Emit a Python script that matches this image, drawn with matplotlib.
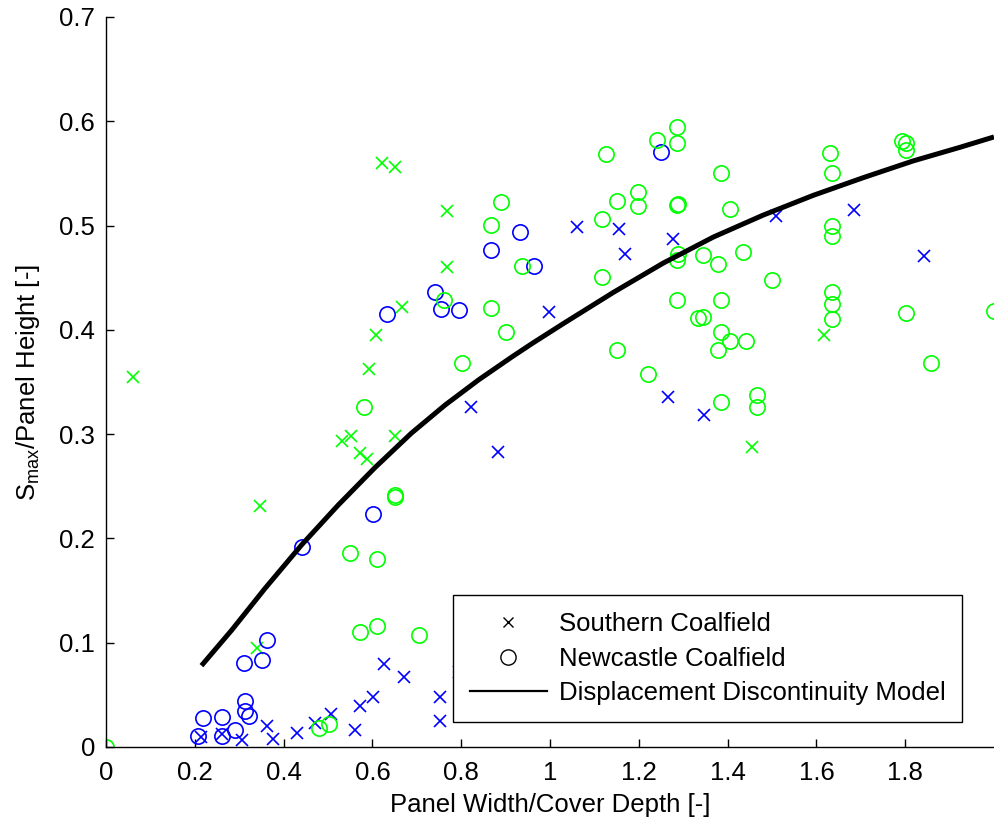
import numpy as np
import matplotlib
matplotlib.use("Agg")
import matplotlib.pyplot as plt
from matplotlib.lines import Line2D

plt.rcParams['font.family'] = ['Liberation Sans', 'DejaVu Sans']

# Southern Coalfield (x markers)
south_blue_x = [0.215, 0.261, 0.306, 0.362, 0.377, 0.430, 0.471, 0.507, 0.561, 0.572,
                0.602, 0.625, 0.671, 0.752, 0.752, 0.794, 0.823, 0.884, 0.998, 1.060,
                1.156, 1.168, 1.276, 1.265, 1.347, 1.508, 1.685, 1.842]
south_blue_y = [0.010, 0.012, 0.007, 0.020, 0.008, 0.013, 0.023, 0.032, 0.016, 0.039,
                0.048, 0.080, 0.067, 0.048, 0.025, 0.072, 0.326, 0.283, 0.417, 0.499,
                0.497, 0.473, 0.487, 0.336, 0.318, 0.509, 0.515, 0.471]

south_green_x = [0.060, 0.339, 0.347, 0.531, 0.552, 0.571, 0.587, 0.593, 0.609, 0.621,
                 0.651, 0.651, 0.666, 0.769, 0.769, 1.454, 1.616]
south_green_y = [0.355, 0.095, 0.231, 0.293, 0.298, 0.282, 0.276, 0.362, 0.395, 0.560,
                 0.556, 0.298, 0.422, 0.460, 0.514, 0.288, 0.395]

# Newcastle Coalfield (circles)
newc_blue_x = [0.208, 0.219, 0.261, 0.261, 0.291, 0.311, 0.312, 0.312, 0.322, 0.352,
               0.362, 0.442, 0.602, 0.633, 0.740, 0.754, 0.796, 0.867, 0.932, 0.965,
               1.251]
newc_blue_y = [0.011, 0.028, 0.011, 0.029, 0.016, 0.081, 0.044, 0.035, 0.030, 0.083,
               0.103, 0.192, 0.223, 0.415, 0.436, 0.420, 0.419, 0.477, 0.494, 0.461,
               0.571]

newc_green_x = [0.000, 0.480, 0.503, 0.550, 0.573, 0.581, 0.610, 0.610, 0.650, 0.652,
                0.705, 0.762, 0.802, 0.867, 0.867, 0.890, 0.902, 0.938, 1.118, 1.118,
                1.126, 1.152, 1.152, 1.199, 1.199, 1.220, 1.241, 1.287, 1.287, 1.286,
                1.288, 1.289, 1.287, 1.287, 1.333, 1.344, 1.344, 1.379, 1.379, 1.386,
                1.386, 1.386, 1.386, 1.405, 1.405, 1.434, 1.441, 1.467, 1.467, 1.501,
                1.631, 1.636, 1.636, 1.636, 1.636, 1.636, 1.636, 1.792, 1.802, 1.802,
                1.801, 1.857, 1.999]
newc_green_y = [0.000, 0.018, 0.022, 0.186, 0.110, 0.326, 0.180, 0.116, 0.240, 0.242,
                0.107, 0.429, 0.368, 0.421, 0.501, 0.523, 0.398, 0.461, 0.506, 0.451,
                0.569, 0.524, 0.381, 0.532, 0.519, 0.358, 0.582, 0.595, 0.579, 0.520,
                0.521, 0.473, 0.467, 0.429, 0.411, 0.412, 0.472, 0.463, 0.381, 0.550,
                0.429, 0.398, 0.331, 0.516, 0.389, 0.475, 0.389, 0.338, 0.326, 0.448,
                0.570, 0.550, 0.500, 0.490, 0.436, 0.425, 0.410, 0.581, 0.579, 0.572,
                0.416, 0.368, 0.418]

# Displacement Discontinuity Model curve
model_x = [0.215, 0.283, 0.358, 0.441, 0.523, 0.606, 0.688, 0.764, 0.839, 0.914,
           0.960, 1.030, 1.143, 1.255, 1.368, 1.480, 1.593, 1.706, 1.818, 1.923, 2.000]
model_y = [0.078, 0.112, 0.152, 0.194, 0.232, 0.268, 0.301, 0.328, 0.352, 0.374,
           0.387, 0.406, 0.436, 0.464, 0.489, 0.510, 0.529, 0.546, 0.562, 0.575, 0.585]

blue = (0, 0, 1)
green = (0, 1, 0)
fs = 18.5

fig = plt.figure(figsize=(9.94, 8.25), dpi=100)
ax = fig.add_axes([106/994, 1 - 747/825, 888/994, 730/825])

ms_x = 8
ms_o = 11
ax.plot(south_blue_x, south_blue_y, 'x', color=blue, ms=ms_x, mew=1.2, ls='none')
ax.plot(south_green_x, south_green_y, 'x', color=green, ms=ms_x, mew=1.2, ls='none')
ax.plot(newc_blue_x, newc_blue_y, 'o', mfc='none', mec=blue, ms=ms_o, mew=1.2, ls='none')
ax.plot(newc_green_x, newc_green_y, 'o', mfc='none', mec=green, ms=ms_o, mew=1.2, ls='none')
ax.plot(model_x, model_y, '-', color='black', lw=3.6,
        solid_capstyle='butt', solid_joinstyle='round')

ax.set_xlim(0, 2)
ax.set_ylim(0, 0.7)
ax.set_xticks(np.arange(0, 1.81, 0.2))
ax.set_xticklabels(['0', '0.2', '0.4', '0.6', '0.8', '1', '1.2', '1.4', '1.6', '1.8'])
ax.set_yticks(np.arange(0, 0.71, 0.1))
ax.set_yticklabels(['0', '0.1', '0.2', '0.3', '0.4', '0.5', '0.6', '0.7'])
ax.spines['top'].set_visible(False)
ax.spines['right'].set_visible(False)
for s in ['left', 'bottom']:
    ax.spines[s].set_linewidth(1.0)
ax.tick_params(axis='both', direction='in', length=6, width=1.0, labelsize=fs)
ax.tick_params(axis='x', pad=10)
ax.tick_params(axis='y', pad=8)

ax.set_xlabel('Panel Width/Cover Depth [-]', fontsize=fs, labelpad=6)
ax.set_ylabel(r'S$_{\mathregular{max}}$/Panel Height [-]', fontsize=fs, labelpad=12)

handles = [
    Line2D([], [], marker='x', color='black', ls='none', ms=7, mew=1.0),
    Line2D([], [], marker='o', mfc='none', mec='black', color='black', ls='none', ms=11, mew=1.0),
    Line2D([], [], color='black', lw=1.6),
]
labels = ['Southern Coalfield', 'Newcastle Coalfield', 'Displacement Discontinuity Model']
leg = ax.legend(handles, labels, loc='lower right', bbox_to_anchor=(0.964, 0.034),
                fontsize=fs, fancybox=False, edgecolor='black', framealpha=1,
                handlelength=3.0, borderpad=0.65, labelspacing=0.42, handletextpad=0.45,
                borderaxespad=0)
leg.get_frame().set_linewidth(1.0)

fig.savefig('out.png', dpi=100)
